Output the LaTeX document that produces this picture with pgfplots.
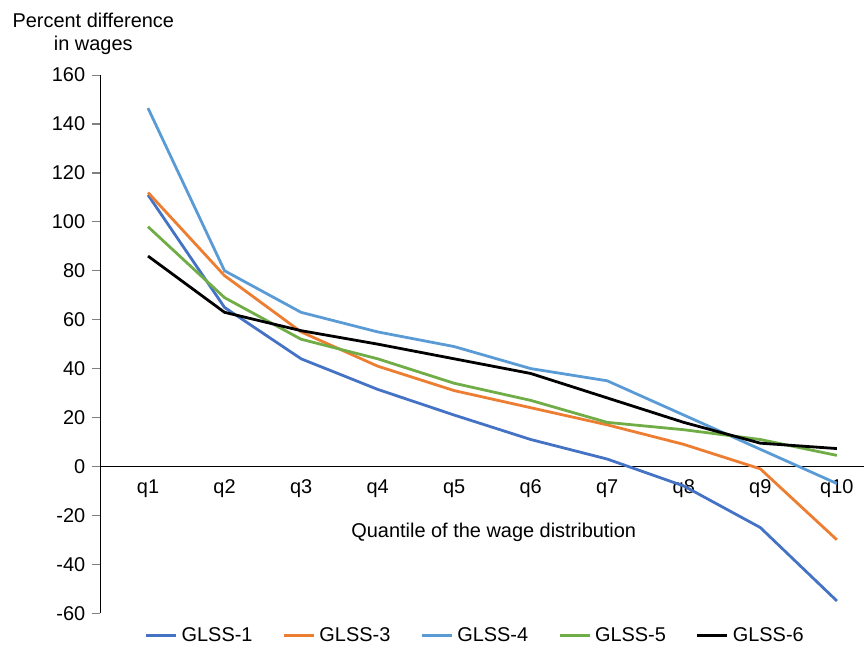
\documentclass[border=0pt]{standalone}
\usepackage{pgfplots}
\pgfplotsset{compat=1.18}
\usepackage{fontspec}
\setmainfont{Liberation Sans}
\definecolor{c1}{RGB}{68,114,196}
\definecolor{c3}{RGB}{237,125,49}
\definecolor{c4}{RGB}{91,155,213}
\definecolor{c5}{RGB}{112,173,71}
\begin{document}
\begin{tikzpicture}
\begin{axis}[
  scale only axis,
  width=383.5pt, height=270pt,
  xmin=0.375, xmax=10.36,
  ymin=-60, ymax=160,
  axis x line=middle, axis y line=left,
  axis line style={-, line width=0.6pt},
  xtick={1,...,10},
  xticklabels={q1,q2,q3,q4,q5,q6,q7,q8,q9,q10},
  x tick style={draw=none},
  x tick label style={yshift=1pt},
  ytick={-60,-40,...,160},
  tick align=outside,
  major tick length=4pt,
  y tick style={line width=0.6pt},
  /pgf/number format/assume math mode=true,
  tick label style={font=\fontsize{10}{12}\selectfont},
  xlabel={Quantile of the wage distribution},
  xlabel style={at={(rel axis cs:0.515,0.15)}, anchor=center, font=\fontsize{10}{12}\selectfont},
  ylabel={Percent difference\\in wages},
  ylabel style={rotate=-90, at={(rel axis cs:-0.009,1)}, anchor=south, yshift=6.5pt, align=center, font=\fontsize{10}{12}\selectfont},
  legend columns=5,
  legend style={draw=none, at={(rel axis cs:0.492,-0.042)}, anchor=center, font=\fontsize{10}{12}\selectfont, /tikz/every even column/.append style={column sep=13pt}},
  legend image code/.code={\draw[#1, line width=1.5pt] (0cm,0cm) -- (0.53cm,0cm);},
  clip=false,
]
\addplot[c1, line width=1.4pt] coordinates {(1,111) (2,65) (3,44) (4,31.5) (5,21) (6,11) (7,3) (8,-8) (9,-25) (10,-55)};
\addlegendentry{GLSS-1}
\addplot[c3, line width=1.4pt] coordinates {(1,112) (2,78) (3,55) (4,41) (5,31) (6,24) (7,17) (8,9) (9,-1) (10,-30)};
\addlegendentry{GLSS-3}
\addplot[c4, line width=1.4pt] coordinates {(1,146.5) (2,80) (3,63) (4,55) (5,49) (6,40) (7,35) (8,21) (9,7) (10,-7)};
\addlegendentry{GLSS-4}
\addplot[c5, line width=1.4pt] coordinates {(1,98) (2,69) (3,52) (4,44) (5,34) (6,27) (7,18) (8,15) (9,11) (10,4.5)};
\addlegendentry{GLSS-5}
\addplot[black, line width=1.4pt] coordinates {(1,86) (2,63) (3,55.5) (4,50) (5,44) (6,38) (7,28) (8,18) (9,9.5) (10,7.3)};
\addlegendentry{GLSS-6}
\end{axis}
\path ([yshift=3pt,xshift=-3pt]current bounding box.north west) rectangle (current bounding box.south east);
\end{tikzpicture}
\end{document}
